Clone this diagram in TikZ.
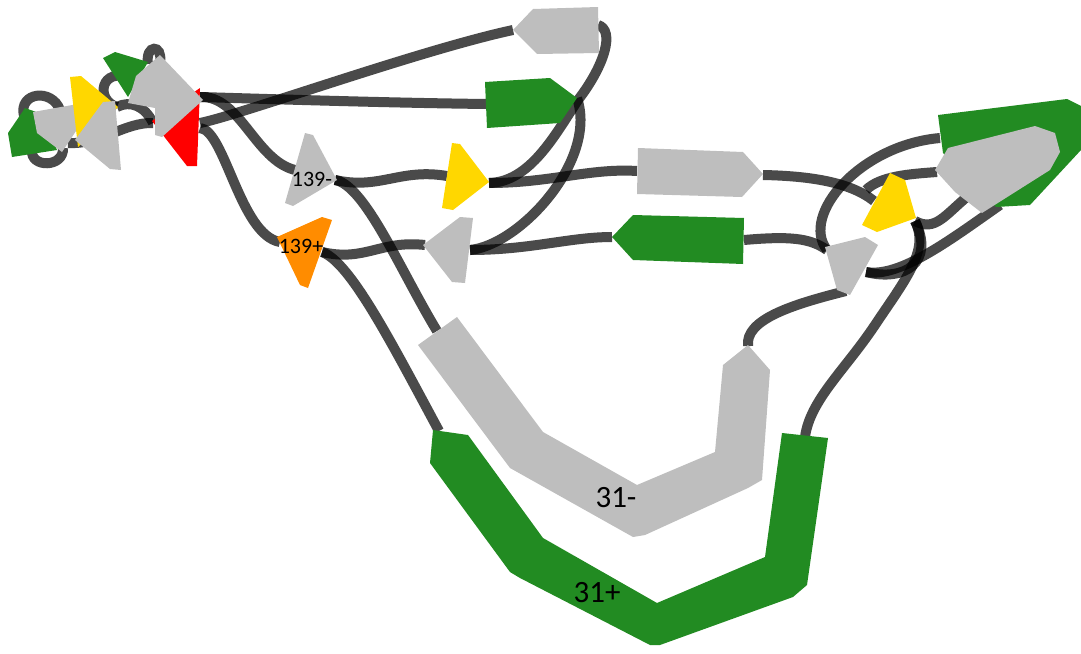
\documentclass[tikz,border=0pt]{standalone}
\usepackage{fontspec}
\setmainfont{Carlito}
\definecolor{ngray}{RGB}{190,190,190}
\definecolor{ngreen}{RGB}{34,139,34}
\definecolor{nyellow}{RGB}{255,215,0}
\definecolor{norange}{RGB}{255,140,0}
\definecolor{nred}{RGB}{255,0,0}
\begin{document}
\begin{tikzpicture}[x=1pt,y=-1pt,
  edge/.style={draw=black,draw opacity=0.71,line width=10pt},
  grayn/.style={fill=ngray},
  greenn/.style={fill=ngreen},
  yellown/.style={fill=nyellow},
  orangen/.style={fill=norange},
  redn/.style={fill=nred},
  smalllbl/.style={font=\fontsize{22}{26}\selectfont,inner sep=0pt,text=black},
  biglbl/.style={font=\fontsize{31}{36}\selectfont,inner sep=0pt,text=black}]
\path[use as bounding box] (0,0) rectangle (1081,653);

% ---------- node end points ----------
\coordinate (tlGrayR) at (200,97);
\coordinate (redA) at (200,123);
\coordinate (redB) at (200,128);
\coordinate (redC) at (153,123);
\coordinate (greenLtop) at (24,116);
\coordinate (grayLtop) at (60,110);
\coordinate (greenLbot) at (32,150);
\coordinate (grayLbot) at (63,148);
\coordinate (grayLR) at (68,143);
\coordinate (yelLtip) at (117,107);
\coordinate (greenTR) at (148,64);
\coordinate (grayTtop) at (160,62);
\coordinate (grayTL) at (132,78);
\coordinate (topGrayTip) at (513,30);
\coordinate (topGrayR) at (598,25);
\coordinate (greenTopL) at (487,104);
\coordinate (greenTopTip) at (577,98);
\coordinate (n139mL) at (295,170);
\coordinate (n139mR) at (335,180);
\coordinate (n139pL) at (280,242);
\coordinate (n139pR) at (322,252);
\coordinate (yelMidL) at (447,176);
\coordinate (yelMidTip) at (489,183);
\coordinate (grayMidL) at (425,245);
\coordinate (grayMidR) at (470,250);
\coordinate (grayMRL) at (637,171);
\coordinate (grayMRTip) at (763,175);
\coordinate (greenMTip) at (612,237);
\coordinate (greenMR) at (744,240);
\coordinate (yelRL) at (874,201);
\coordinate (yelRT) at (866,190);
\coordinate (yelRR) at (915,221);
\coordinate (bigGrayL) at (937,172);
\coordinate (bigGrayB) at (968,196);
\coordinate (bigGreenL) at (940,138);
\coordinate (bigGreenB) at (1000,205);
\coordinate (graySL) at (827,250);
\coordinate (graySR) at (866,272);
\coordinate (graySB) at (846,291);
\coordinate (n31mL) at (437,331);
\coordinate (n31mTip) at (748,346);
\coordinate (n31pL) at (439,431);
\coordinate (n31pR) at (805,437);

% ---------- edges ----------
% top-left cluster
\draw[edge] (greenLtop) .. controls (18,92) and (52,88) .. (grayLtop);
\draw[edge] (greenLbot) .. controls (30,168) and (64,168) .. (grayLbot);
\draw[edge] (grayLR) .. controls (100,145) and (125,122) .. (redC);
\draw[edge] (yelLtip) .. controls (130,100) and (145,106) .. (redC);
\draw[edge] (yelLtip) .. controls (95,100) and (100,66) .. (grayTL);
\draw[edge] (greenTR) .. controls (145,44) and (163,44) .. (grayTtop);
% long edges
\draw[edge] (redA) .. controls (240,115) and (420,50) .. (topGrayTip);
\draw[edge] (tlGrayR) .. controls (300,100) and (400,103) .. (greenTopL);
\draw[edge] (tlGrayR) .. controls (240,95) and (255,160) .. (n139mL);
\draw[edge] (redB) .. controls (225,130) and (240,235) .. (n139pL);
\draw[edge] (topGrayR) .. controls (615,30) and (605,65) .. (578,100)
                       .. controls (555,135) and (530,182) .. (yelMidTip);
\draw[edge] (grayMidR) .. controls (520,245) and (598,160) .. (greenTopTip);
\draw[edge] (n139mR) .. controls (380,190) and (400,168) .. (yelMidL);
\draw[edge] (n139mR) .. controls (365,185) and (400,270) .. (n31mL);
\draw[edge] (n139pR) .. controls (365,262) and (380,240) .. (grayMidL);
\draw[edge] (n139pR) .. controls (350,262) and (390,340) .. (n31pL);
\draw[edge] (yelMidTip) .. controls (550,183) and (590,168) .. (grayMRL);
\draw[edge] (grayMidR) .. controls (530,250) and (570,237) .. (greenMTip);
% right cluster
\draw[edge] (grayMRTip) .. controls (810,176) and (850,182) .. (yelRL);
\draw[edge] (bigGreenL) .. controls (860,145) and (800,215) .. (graySL);
\draw[edge] (yelRT) .. controls (880,176) and (910,174) .. (bigGrayL);
\draw[edge] (yelRR) .. controls (935,232) and (945,215) .. (bigGrayB);
\draw[edge] (yelRR) .. controls (930,250) and (905,280) .. (875,325)
                    .. controls (845,370) and (810,400) .. (n31pR);
\draw[edge] (graySR) .. controls (900,278) and (950,240) .. (bigGreenB);
\draw[edge] (yelRR) .. controls (935,262) and (905,282) .. (graySR);
\draw[edge] (graySB) .. controls (790,305) and (745,320) .. (n31mTip);
\draw[edge] (greenMR) .. controls (790,236) and (810,238) .. (graySL);

% ---------- nodes ----------
% top-left cluster
\fill[greenn] (25,108) -- (42,114) -- (57,150) -- (12,157) -- (8,133) -- cycle;
\fill[grayn] (33,112) -- (78,104) -- (82,122) -- (62,152) -- (37,133) -- cycle;
\fill[yellown] (70,77) -- (81,76) -- (118,107) -- (78,147) -- cycle;
\fill[grayn] (75,140) -- (103,102) -- (115,101) -- (121,170) -- (110,169) -- cycle;
\fill[greenn] (103,58) -- (115,52) -- (148,62) -- (128,97) -- cycle;
\fill[redn] (152,121) -- (200,88) -- (197,166) -- (187,166) -- cycle;
\fill[grayn] (128,103) -- (136,76) -- (160,55) -- (203,100) -- (162,137) -- (155,135) -- (155,108) -- cycle;
% top row
\fill[grayn] (513,30) -- (533,9) -- (598,7) -- (599,53) -- (537,54) -- cycle;
\fill[greenn] (485,82) -- (550,78) -- (577,98) -- (560,123) -- (487,128) -- cycle;
% middle
\fill[grayn] (305,133) -- (313,135) -- (337,180) -- (293,206) -- (285,203) -- cycle;
\fill[orangen] (277,237) -- (322,217) -- (332,220) -- (308,288) -- (300,285) -- cycle;
\fill[yellown] (452,143) -- (460,144) -- (489,182) -- (453,210) -- (442,208) -- cycle;
\fill[grayn] (423,245) -- (460,217) -- (473,218) -- (465,283) -- (452,282) -- cycle;
\fill[grayn] (638,148) -- (743,152) -- (763,174) -- (742,197) -- (637,194) -- cycle;
\fill[greenn] (612,237) -- (633,215) -- (744,218) -- (743,264) -- (633,260) -- cycle;
% right cluster
\fill[greenn] (938,115) -- (1067,99) -- (1081,106) -- (1081,150) -- (1030,205) -- (996,207) -- (943,153) -- cycle;
\fill[grayn] (935,170) -- (948,148) -- (1035,126) -- (1055,133) -- (1060,152) -- (1050,170) -- (982,213) -- (955,192) -- cycle;
\fill[yellown] (890,173) -- (905,180) -- (916,218) -- (877,232) -- (862,225) -- cycle;
\fill[grayn] (825,247) -- (865,237) -- (878,245) -- (850,295) -- (837,290) -- cycle;
% long nodes 31- and 31+
\fill[grayn] (418,345) -- (457,317) -- (543,432) -- (637,485) -- (715,452) -- (723,365) -- (748,345) -- (770,370) -- (762,480) -- (748,488) -- (645,535) -- (633,537) -- (510,468) -- cycle;
\fill[greenn] (433,430) -- (468,435) -- (543,538) -- (657,603) -- (765,557) -- (782,433) -- (828,438) -- (807,585) -- (793,597) -- (660,645) -- (650,645) -- (520,578) -- (510,572) -- (430,463) -- cycle;

% ---------- labels ----------
\node[smalllbl] (l139m) at (312,179) {139-};
\node[smalllbl] (l139p) at (301,246) {139+};
\node[biglbl] (l31m) at (616,498) {31-};
\node[biglbl] (l31p) at (597,593) {31+};
\end{tikzpicture}
\end{document}
